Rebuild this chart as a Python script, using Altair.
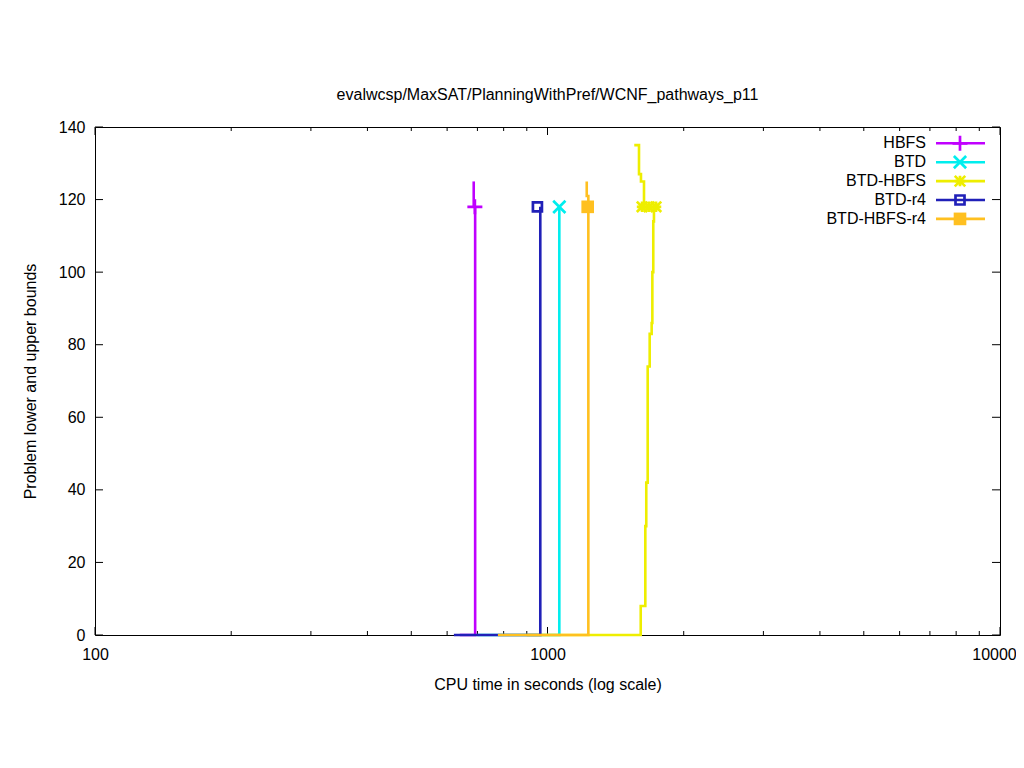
import altair as alt
import pandas as pd

FONT = "Liberation Sans"

series = ["HBFS", "BTD", "BTD-HBFS", "BTD-r4", "BTD-HBFS-r4"]
colors = ["#c000ff", "#00eeee", "#eeee00", "#2020b8", "#ffc020"]
shapes = ["M-1,0H1M0,-1V1",
          "M-1,-1L1,1M-1,1L1,-1",
          "M-1,0H1M0,-1V1M-1,-1L1,1M-1,1L1,-1",
          "square",
          "square"]
filled = [False, False, False, False, True]
sizes = [225, 150, 110, 81, 160]

# lower / upper bound step paths (CPU time, bound)
hbfs_lb_t = [640, 692]
hbfs_lb_v = [0, 118]
hbfs_ub_t = [687, 687]
hbfs_ub_v = [125, 118]

btd_lb_t = [700, 1062]
btd_lb_v = [0, 118]

btdhbfs_lb_t = [900, 1607, 1645, 1653, 1665, 1682, 1699, 1705, 1713, 1719]
btdhbfs_lb_v = [0, 8, 30, 42, 74, 83, 86, 100, 114, 118]
btdhbfs_ub_t = [1555, 1593, 1609, 1634]
btdhbfs_ub_v = [135, 127, 125, 118]

btdr4_lb_t = [621, 964]
btdr4_lb_v = [0, 118]

btdhbfsr4_lb_t = [777, 1231]
btdhbfsr4_lb_v = [0, 118]
btdhbfsr4_ub_t = [1221, 1221, 1231]
btdhbfsr4_ub_v = [125, 121, 118]

# point markers
marker_series = ["HBFS", "BTD", "BTD-HBFS", "BTD-HBFS", "BTD-HBFS", "BTD-r4", "BTD-HBFS-r4"]
marker_t = [691, 1062, 1618, 1676, 1737, 950, 1227]
marker_v = [118, 118, 118, 118, 118, 118, 118]

# axis ticks
x_labels = [100, 1000, 10000]
x_minor = [200, 300, 400, 500, 600, 700, 800, 900,
           2000, 3000, 4000, 5000, 6000, 7000, 8000, 9000]
y_labels = [0, 20, 40, 60, 80, 100, 120, 140]

paths = {
    "HBFS": [(hbfs_lb_t, hbfs_lb_v), (hbfs_ub_t, hbfs_ub_v)],
    "BTD": [(btd_lb_t, btd_lb_v)],
    "BTD-HBFS": [(btdhbfs_lb_t, btdhbfs_lb_v), (btdhbfs_ub_t, btdhbfs_ub_v)],
    "BTD-r4": [(btdr4_lb_t, btdr4_lb_v)],
    "BTD-HBFS-r4": [(btdhbfsr4_lb_t, btdhbfsr4_lb_v), (btdhbfsr4_ub_t, btdhbfsr4_ub_v)],
}

rows = []
for s, plist in paths.items():
    for b, (ts, vs) in enumerate(plist):
        for i, (t, v) in enumerate(zip(ts, vs)):
            rows.append({"series": s, "bound": b, "i": i, "t": t, "v": v})
lines_df = pd.DataFrame(rows)
marks_df = pd.DataFrame({"series": marker_series, "t": marker_t, "v": marker_v})

W, H = 905, 508
FS = 16
LW = 2.6
MW = 2.7
xscale = alt.Scale(type="log", domain=[100, 10000], nice=False)
yscale = alt.Scale(domain=[0, 140], nice=False, zero=False)

xaxis = alt.Axis(values=x_labels, format="d", title="CPU time in seconds (log scale)",
                 grid=False, ticks=False, tickSize=0, domain=False,
                 labelFont=FONT, labelFontSize=FS, labelColor="black", labelPadding=11,
                 labelFlush=False, labelOverlap=False,
                 labelOffset={"condition": {"test": "datum.value == 10000", "value": -6},
                              "value": 0},
                 titleFont=FONT, titleFontSize=FS, titleFontWeight="normal",
                 titleColor="black", titlePadding=14)
yaxis = alt.Axis(values=y_labels, title="Problem lower and upper bounds",
                 grid=False, ticks=False, tickSize=0, domain=False,
                 labelFont=FONT, labelFontSize=FS, labelColor="black", labelPadding=10,
                 labelFlush=False, labelOverlap=False,
                 titleFont=FONT, titleFontSize=FS, titleFontWeight="normal",
                 titleColor="black", titlePadding=20)

X = lambda f: alt.X(f, type="quantitative", scale=xscale, axis=xaxis)
Y = lambda f: alt.Y(f, type="quantitative", scale=yscale, axis=yaxis)

layers = []

# ticks (inward, mirrored)
xmaj = pd.DataFrame({"v": x_labels})
xmin = pd.DataFrame({"v": x_minor})
ymaj = pd.DataFrame({"v": y_labels})
tick = dict(color="black", strokeWidth=1)
layers.append(alt.Chart(xmaj).mark_rule(**tick).encode(x=X("v"), y=alt.value(H), y2=alt.value(H - 8)))
layers.append(alt.Chart(xmaj).mark_rule(**tick).encode(x=X("v"), y=alt.value(0), y2=alt.value(8)))
layers.append(alt.Chart(xmin).mark_rule(**tick).encode(x=X("v"), y=alt.value(H), y2=alt.value(H - 4)))
layers.append(alt.Chart(xmin).mark_rule(**tick).encode(x=X("v"), y=alt.value(0), y2=alt.value(4)))
layers.append(alt.Chart(ymaj).mark_rule(**tick).encode(y=Y("v"), x=alt.value(0), x2=alt.value(8)))
layers.append(alt.Chart(ymaj).mark_rule(**tick).encode(y=Y("v"), x=alt.value(W), x2=alt.value(W - 8)))

# data series
for s, c, shp, fl, sz in zip(series, colors, shapes, filled, sizes):
    ln = alt.Chart(lines_df).transform_filter(alt.datum.series == s).mark_line(
        interpolate="step-after", strokeWidth=LW, color=c
    ).encode(x=X("t"), y=Y("v"), detail="bound:N", order=alt.Order("i:Q"))
    pt = alt.Chart(marks_df).transform_filter(alt.datum.series == s).mark_point(
        shape=shp, size=sz, filled=fl, strokeWidth=MW, color=c, opacity=1
    ).encode(x=X("t"), y=Y("v"))
    layers += [ln, pt]

# legend (top right, inside plot)
for k, (s, c, shp, fl, sz) in enumerate(zip(series, colors, shapes, filled, sizes)):
    ry = 16.3 + 18.9 * k
    d = pd.DataFrame({"series": [s]})
    layers.append(alt.Chart(d).mark_text(align="right", baseline="middle", font=FONT,
                                          fontSize=FS, color="black").encode(
        x=alt.value(831), y=alt.value(ry), text="series:N"))
    layers.append(alt.Chart(d).mark_rule(color=c, strokeWidth=LW).encode(
        x=alt.value(841), x2=alt.value(890), y=alt.value(ry)))
    layers.append(alt.Chart(d).mark_point(shape=shp, size=sz, filled=fl, strokeWidth=MW,
                                          color=c, opacity=1).encode(
        x=alt.value(865), y=alt.value(ry)))

chart = alt.layer(*layers).properties(
    width=W, height=H,
    title=alt.TitleParams("evalwcsp/MaxSAT/PlanningWithPref/WCNF_pathways_p11",
                          font=FONT, fontSize=FS, fontWeight="normal", color="black",
                          anchor="middle", baseline="alphabetic", offset=3),
    autosize=alt.AutoSizeParams(type="none"),
    padding={"left": 87, "top": 119, "right": 16, "bottom": 125},
    background="white",
).configure_view(stroke="black", strokeWidth=1)

chart.save("out.html", embed_options={"renderer": "svg", "actions": False})
